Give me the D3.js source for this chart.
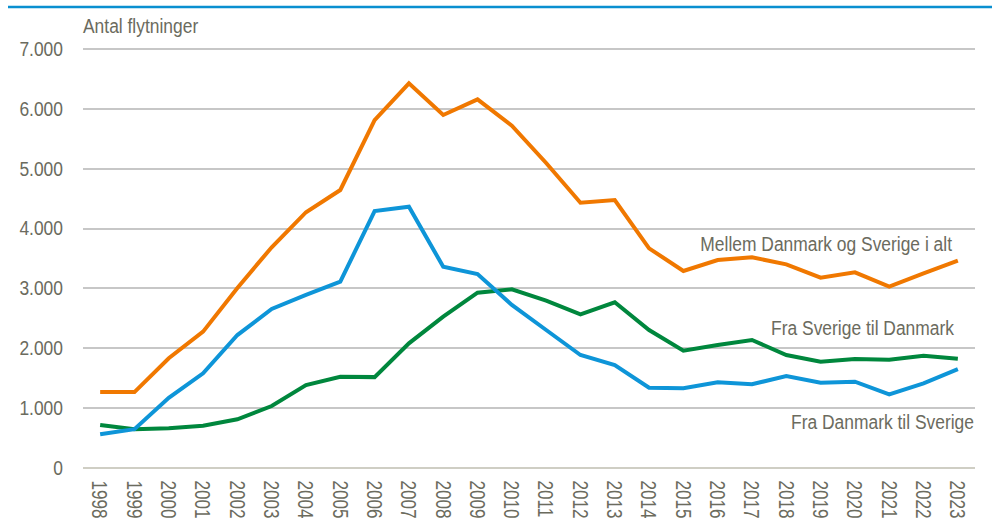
<!DOCTYPE html>
<html>
<head>
<meta charset="utf-8">
<script src="https://cdn.jsdelivr.net/npm/d3@7"></script>
<style>
  body { margin: 0; background: #fff; }
  svg text { font-family: "Liberation Sans", Arial, sans-serif; fill: #6b6b5e; }
</style>
</head>
<body>
<svg id="chart" width="992" height="519"></svg>
<script>
var years = d3.range(1998, 2024).map(String);
var yTicks = [0, 1000, 2000, 3000, 4000, 5000, 6000, 7000];

var total = [1260, 1260, 1825, 2270, 3000, 3680, 4265, 4636, 5805, 6418, 5889, 6151, 5710, 5087, 4424, 4469,
  3662, 3283, 3466, 3511, 3394, 3171, 3261, 3021, 3244, 3455];
var dkToSe = [555, 640, 1165, 1574, 2213, 2648, 2885, 3104, 4285, 4357, 3354, 3233, 2715, 2297, 1879, 1712,
  1333, 1323, 1423, 1390, 1529, 1417, 1433, 1223, 1407, 1645];
var seToDk = [710, 638, 655, 699, 805, 1027, 1378, 1517, 1510, 2075, 2519, 2920, 2977, 2787, 2559, 2760,
  2297, 1951, 2046, 2130, 1879, 1768, 1813, 1801, 1868, 1818];

var seriesNames = ['Mellem Danmark og Sverige i alt', 'Fra Sverige til Danmark', 'Fra Danmark til Sverige'];

var margin = {top: 48.5, left: 83, right: 17, bottom: 51.5},
  width = 992 - margin.left - margin.right,
  height = 519 - margin.top - margin.bottom,
  narrow = 0.83; // the original font is a condensed sans

var svg = d3.select('#chart');

// blue rule at the top
svg.append('line')
  .attr('x1', 8).attr('x2', 992)
  .attr('y1', 7).attr('y2', 7)
  .attr('stroke', '#0a8fd0')
  .attr('stroke-width', 2.5);

var g = svg.append('g')
  .attr('transform', 'translate(' + margin.left + ',' + margin.top + ')');

var x = d3.scaleBand().domain(years).range([0, width]);
var y = d3.scaleLinear().domain([0, 7000]).range([height, 0]);

// gridlines
g.append('g')
  .selectAll('line')
  .data(yTicks)
  .enter().append('line')
  .attr('x1', 0).attr('x2', width)
  .attr('y1', function (d) { return Math.round(y(d)) + 0.5; })
  .attr('y2', function (d) { return Math.round(y(d)) + 0.5; })
  .attr('stroke', function (d) { return d === 0 ? '#cfcec4' : '#8f8f8f'; })
  .attr('stroke-width', function (d) { return d === 0 ? 2 : 1.2; });

// y axis labels
var fmt = function (d) { return d3.format(',')(d).replace(/,/g, '.'); };
g.append('g')
  .selectAll('text')
  .data(yTicks)
  .enter().append('text')
  .attr('transform', function (d) { return 'translate(-20,' + y(d) + ') scale(' + narrow + ',1)'; })
  .attr('dy', '0.35em')
  .style('text-anchor', 'end')
  .style('font-size', '21px')
  .text(fmt);

// x axis labels, rotated
g.append('g')
  .selectAll('text')
  .data(years)
  .enter().append('text')
  .attr('transform', function (d) {
    return 'translate(' + (x(d) + x.bandwidth() / 2) + ',' + (height + 13) + ') rotate(90) scale(0.78,1)';
  })
  .attr('dy', '0.35em')
  .style('text-anchor', 'start')
  .style('font-size', '22px')
  .text(function (d) { return d; });

svg.append('text')
  .attr('transform', 'translate(83,33) scale(' + narrow + ',1)')
  .style('font-size', '21px')
  .text('Antal flytninger');

var line = d3.line()
  .x(function (d, i) { return x(years[i]) + x.bandwidth() / 2; })
  .y(function (d) { return y(d); });

var series = [
  {values: seToDk, color: '#00873d'},
  {values: dkToSe, color: '#0e95d8'},
  {values: total, color: '#f07800'}
];

g.selectAll('.series')
  .data(series)
  .enter().append('path')
  .attr('class', 'series')
  .attr('fill', 'none')
  .attr('stroke', function (d) { return d.color; })
  .attr('stroke-width', 4)
  .attr('stroke-linejoin', 'miter')
  .attr('d', function (d) { return line(d.values); });

// series labels
var labels = [
  {text: seriesNames[0], x: 952, y: 244},
  {text: seriesNames[1], x: 954, y: 328},
  {text: seriesNames[2], x: 974, y: 422}
];
svg.append('g')
  .selectAll('text')
  .data(labels)
  .enter().append('text')
  .attr('transform', function (d) { return 'translate(' + d.x + ',' + d.y + ') scale(' + narrow + ',1)'; })
  .attr('dy', '0.35em')
  .style('text-anchor', 'end')
  .style('font-size', '21px')
  .text(function (d) { return d.text; });
</script>
</body>
</html>
